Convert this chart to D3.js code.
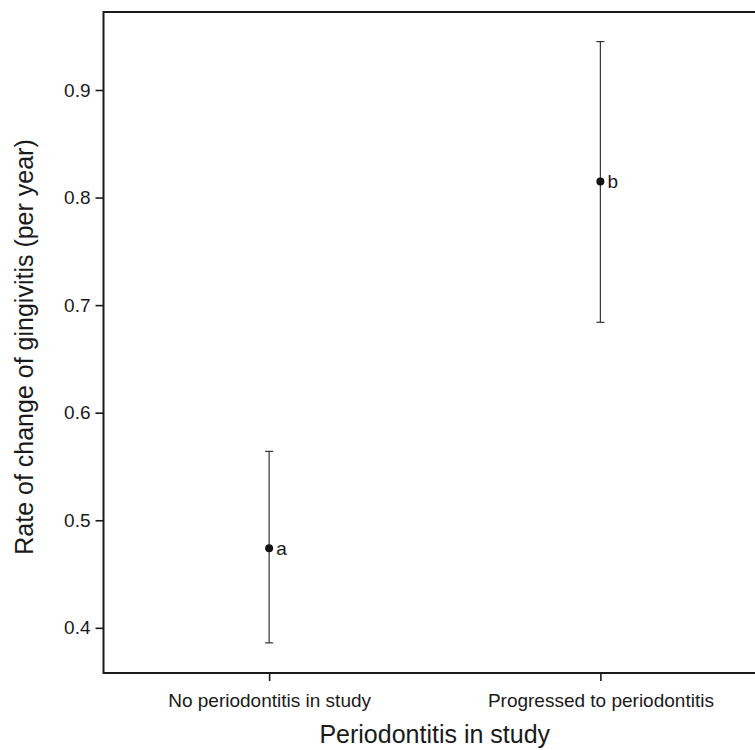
<!DOCTYPE html>
<html>
<head>
<meta charset="utf-8">
<script src="https://cdn.jsdelivr.net/npm/d3@7"></script>
<style>
  html, body { margin: 0; padding: 0; background: #fff; }
  svg { display: block; }
  text { font-family: "Liberation Sans", Arial, Helvetica, sans-serif; fill: #1a1a1a; }
</style>
</head>
<body>
<svg id="chart" width="755" height="750"></svg>
<script>
// Data
const categories = ["No periodontitis in study", "Progressed to periodontitis"];
const means = [0.474, 0.815];
const lowers = [0.386, 0.684];
const uppers = [0.564, 0.945];
const groupLetters = ["a", "b"];
const yTicks = [0.4, 0.5, 0.6, 0.7, 0.8, 0.9];
const xTitle = "Periodontitis in study";
const yTitle = "Rate of change of gingivitis (per year)";

const svg = d3.select("#chart");
const L = 103.5, R = 766, T = 12, B = 673;

const x = d3.scalePoint().domain(categories).range([L, R]).padding(0.5);
const y = d3.scaleLinear().domain([0.358, 0.9725]).range([B, T]);

// Y axis
const yAxis = svg.append("g")
  .attr("transform", `translate(${L},0)`)
  .call(d3.axisLeft(y).tickValues(yTicks).tickFormat(d3.format(".1f"))
    .tickSize(8).tickSizeOuter(0).tickPadding(5));
yAxis.select(".domain").remove();
yAxis.selectAll(".tick line").attr("stroke", "#1a1a1a").attr("stroke-width", 1.6);
yAxis.selectAll(".tick text").style("font-size", "19px").attr("fill", "#1a1a1a")
  .style("font-family", '"Liberation Sans", Arial, sans-serif');

// X axis
const xAxis = svg.append("g")
  .attr("transform", `translate(0,${B})`)
  .call(d3.axisBottom(x).tickSize(8).tickSizeOuter(0).tickPadding(12.5));
xAxis.select(".domain").remove();
xAxis.selectAll(".tick line").attr("stroke", "#1a1a1a").attr("stroke-width", 1.6);
xAxis.selectAll(".tick text").style("font-size", "19px").attr("fill", "#1a1a1a")
  .style("font-family", '"Liberation Sans", Arial, sans-serif');

// Frame
svg.append("rect")
  .attr("x", L).attr("y", T)
  .attr("width", R - L).attr("height", B - T)
  .attr("fill", "none").attr("stroke", "#1a1a1a").attr("stroke-width", 2);

// Error bars
const data = categories.map((c, i) => ({c, m: means[i], lo: lowers[i], hi: uppers[i], lab: groupLetters[i]}));
const g = svg.append("g");
g.selectAll("line.err").data(data).join("line")
  .attr("class", "err")
  .attr("x1", d => x(d.c)).attr("x2", d => x(d.c))
  .attr("y1", d => y(d.lo)).attr("y2", d => y(d.hi))
  .attr("stroke", "#333").attr("stroke-width", 1.2);
["lo", "hi"].forEach(k => {
  g.selectAll("line.cap-" + k).data(data).join("line")
    .attr("class", "cap-" + k)
    .attr("x1", d => x(d.c) - 4).attr("x2", d => x(d.c) + 4)
    .attr("y1", d => y(d[k])).attr("y2", d => y(d[k]))
    .attr("stroke", "#333").attr("stroke-width", 1.2);
});
g.selectAll("circle").data(data).join("circle")
  .attr("cx", d => x(d.c)).attr("cy", d => y(d.m)).attr("r", 4)
  .attr("fill", "#111");
g.selectAll("text.lab").data(data).join("text")
  .attr("class", "lab")
  .attr("x", d => x(d.c) + 7).attr("y", d => y(d.m)).attr("dy", "0.35em")
  .style("font-size", "19px").text(d => d.lab);

// Titles
svg.append("text")
  .attr("x", (L + R) / 2).attr("y", 743)
  .attr("text-anchor", "middle").style("font-size", "25px")
  .text(xTitle);
svg.append("text")
  .attr("transform", "rotate(-90)")
  .attr("x", -347).attr("y", 33)
  .attr("text-anchor", "middle").style("font-size", "25px")
  .text(yTitle);
</script>
</body>
</html>
